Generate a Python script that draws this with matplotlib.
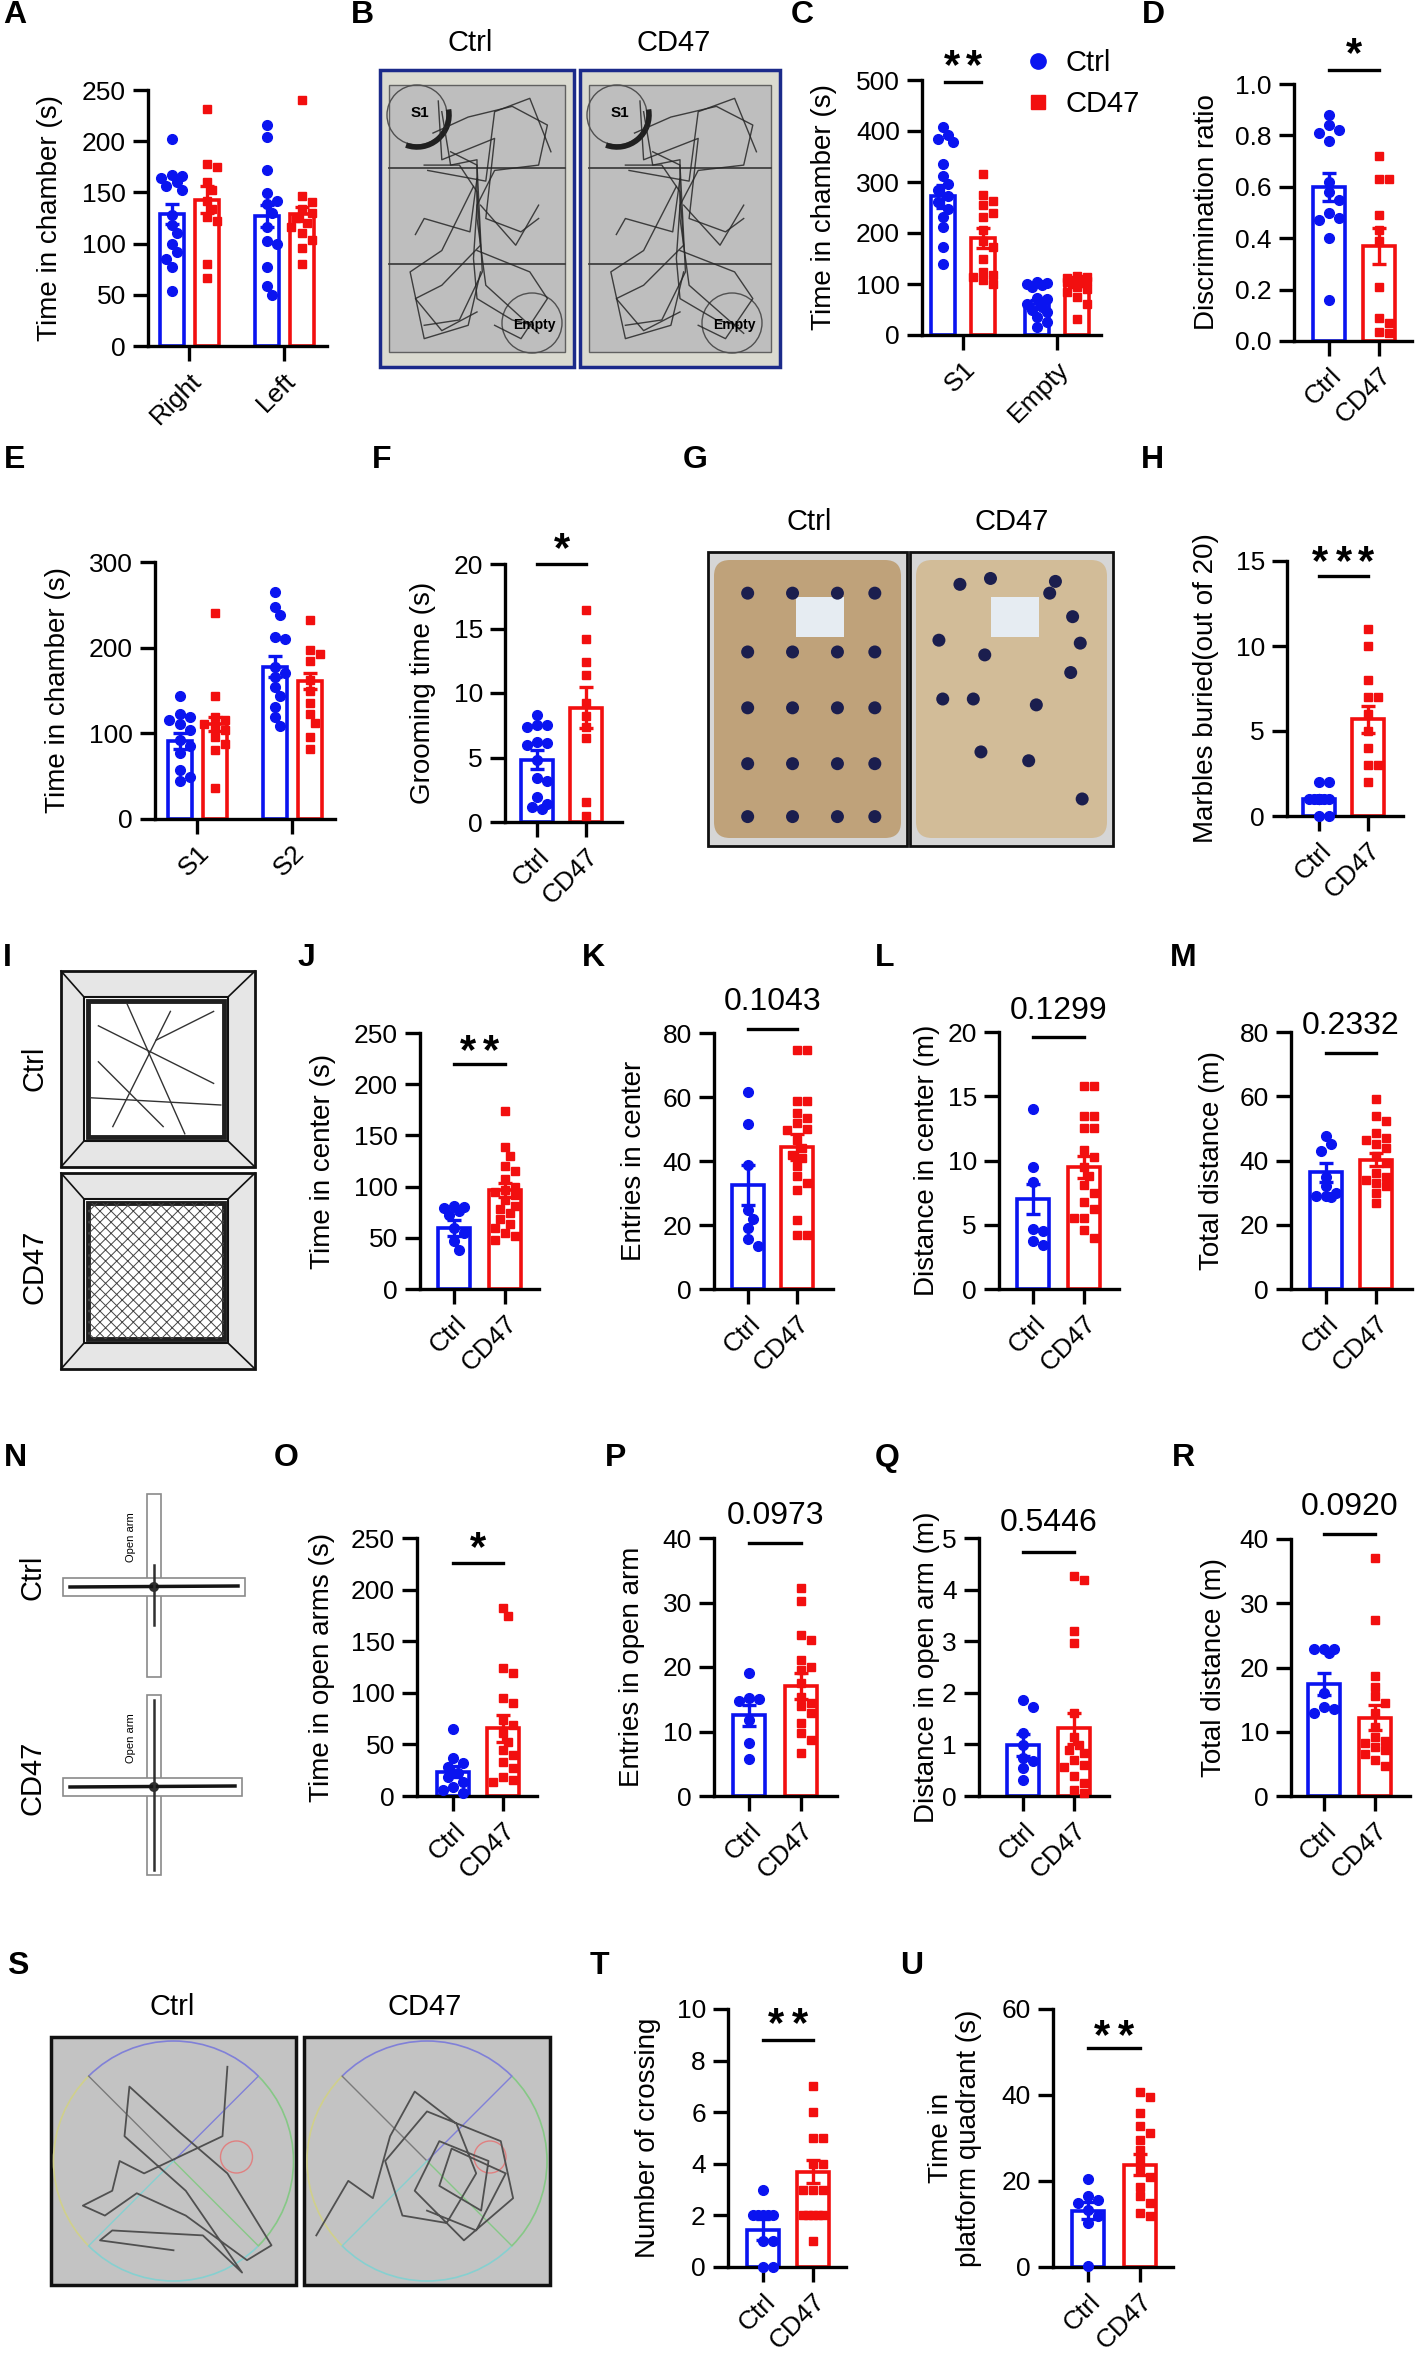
import matplotlib
matplotlib.use("Agg")
import matplotlib.pyplot as plt
import matplotlib.transforms as mtransforms
import numpy as np
from matplotlib.patches import Rectangle, Circle, FancyBboxPatch, Arc
from matplotlib.lines import Line2D

W, H = 1416, 2362
BLUE = "#0A14F0"
RED = "#F20F0F"
plt.rcParams["font.family"] = ["Liberation Sans", "DejaVu Sans"]
plt.rcParams["hatch.linewidth"] = 0.7

# ---------------- data ----------------
# A  three chamber, habituation
a_groups = ["Right", "Left"]
a_ctrl_pts = [[202, 167, 166, 164, 160, 156, 152, 128, 118, 110, 100, 92, 85, 77, 54],
              [216, 204, 172, 149, 142, 139, 130, 116, 103, 100, 77, 59, 50]]
a_cd47_pts = [[231, 178, 175, 160, 152, 142, 134, 126, 122, 80, 66],
              [240, 146, 141, 134, 130, 125, 120, 116, 110, 104, 96, 80]]
a_ctrl_mean, a_ctrl_sem = [129, 127], [10, 11]
a_cd47_mean, a_cd47_sem = [143, 129], [13, 7]

# C  sociability
c_groups = ["S1", "Empty"]
c_ctrl_pts = [[408, 392, 385, 378, 336, 312, 296, 285, 272, 260, 248, 232, 212, 172, 140],
              [104, 102, 100, 98, 95, 72, 70, 60, 55, 50, 45, 35, 25, 15]]
c_cd47_pts = [[316, 275, 262, 255, 240, 231, 206, 185, 173, 149, 124, 118, 114, 108, 100],
              [115, 113, 112, 110, 108, 106, 105, 104, 102, 100, 95, 90, 85, 75, 60, 32]]
c_ctrl_mean, c_ctrl_sem = [272, 60], [23, 8]
c_cd47_mean, c_cd47_sem = [190, 102], [20, 6]

# D  discrimination ratio
d_ctrl = [0.88, 0.84, 0.82, 0.81, 0.78, 0.62, 0.58, 0.55, 0.50, 0.48, 0.47, 0.40, 0.16]
d_cd47 = [0.72, 0.63, 0.63, 0.49, 0.43, 0.39, 0.21, 0.09, 0.07, 0.035, 0.03]
d_mean, d_sem = [0.60, 0.37], [0.055, 0.07]

# E  social novelty
e_groups = ["S1", "S2"]
e_ctrl_pts = [[143, 123, 119, 115, 111, 104, 92, 85, 77, 57, 49, 44],
              [265, 248, 238, 213, 210, 178, 170, 166, 154, 143, 131, 119, 108]]
e_cd47_pts = [[240, 143, 119, 115, 111, 108, 104, 96, 88, 80, 36],
              [232, 197, 193, 185, 162, 150, 135, 123, 112, 96, 82]]
e_ctrl_mean, e_ctrl_sem = [91, 178], [9, 12]
e_cd47_mean, e_cd47_sem = [111, 161], [8, 9]

# F  grooming
f_ctrl = [8.3, 7.5, 7.5, 7.4, 6.2, 6.1, 6.0, 4.8, 3.4, 3.2, 1.9, 1.4, 1.2, 1.0]
f_cd47 = [16.4, 14.2, 12.4, 11.4, 9.2, 8.2, 7.4, 6.5, 1.55, 0.5]
f_mean, f_sem = [4.84, 8.85], [0.75, 1.6]

# H  marbles buried
h_ctrl = [2, 2, 1, 1, 1, 1, 1, 1, 1, 1, 1, 0, 0]
h_cd47 = [11, 10, 8, 7, 7, 6, 5, 4, 3, 3, 2]
h_mean, h_sem = [1.0, 5.7], [0.15, 0.8]

# J-M  open field
j_ctrl = [81, 80, 79, 76, 72, 60, 55, 47, 38]
j_cd47 = [174, 139, 130, 120, 115, 107, 100, 97, 95, 92, 87, 81, 78, 74, 68, 63, 60, 55, 52, 48]
j_mean, j_sem = [59.6, 97], [7.5, 7]
k_ctrl = [61.5, 51.6, 38.9, 24.8, 21.9, 19, 15.6, 13.3]
k_cd47 = [74.6, 74.6, 58.6, 58.6, 55, 53.4, 51.9, 50, 49.8, 46.7, 44, 42, 40.9, 38.3, 35.2, 33, 31, 21.7, 17, 17]
k_mean, k_sem = [32.6, 44.4], [6.3, 4]
l_ctrl = [14.0, 9.5, 8.3, 4.7, 4.5, 3.7, 3.45]
l_cd47 = [15.8, 15.8, 13.5, 13.5, 12.5, 12.5, 10.8, 10.3, 9.5, 8.8, 8.1, 7.5, 6.8, 6.2, 5.5, 5.5, 4.6, 4.0]
l_mean, l_sem = [7.0, 9.47], [1.2, 0.85]
m_ctrl = [47.5, 45, 43, 35, 32, 30, 29, 29, 28.5]
m_cd47 = [59.2, 53.7, 52.2, 48.5, 47, 46.5, 45, 43.9, 41.3, 39.2, 36.1, 35, 34, 33, 32, 29.9, 26.8]
m_mean, m_sem = [36.3, 40.3], [3, 2]

# O-R  elevated plus maze
o_ctrl = [64.7, 36.5, 31.7, 28.5, 22, 18.8, 13.9, 9, 5.8, 3]
o_cd47 = [182, 174, 124, 119, 94.8, 90, 73.7, 68.9, 60.8, 52.7, 44.6, 39.8, 33.3, 26.8, 18.8, 15.5, 13.9]
o_mean, o_sem = [23.6, 65.7], [5, 13]
p_ctrl = [19, 15.2, 15.0, 14.8, 11.8, 8.2, 5.8]
p_cd47 = [32.2, 30.2, 25, 24.2, 21.1, 20, 19.6, 17.5, 15.4, 14.4, 13.9, 12.8, 11.3, 9.7, 8.7, 6.6]
p_mean, p_sem = [12.5, 17], [1.6, 2]
q_ctrl = [1.86, 1.73, 1.22, 0.99, 0.73, 0.67, 0.54, 0.31]
q_cd47 = [4.26, 4.19, 3.19, 2.96, 1.6, 1.15, 0.99, 0.9, 0.83, 0.70, 0.6, 0.57, 0.38, 0.25, 0.12, 0.05]
q_mean, q_sem = [0.99, 1.31], [0.22, 0.3]
r_ctrl = [22.9, 22.9, 22.9, 22.2, 16, 13.9, 13.5, 12.9]
r_cd47 = [37.1, 27.4, 18.7, 17, 15.5, 14.4, 12.9, 10.8, 9.2, 8.5, 8.2, 7.7, 7.2, 6.6, 5.6, 4.6]
r_mean, r_sem = [17.4, 12.2], [1.7, 2]

# T-U  Morris water maze probe
t_ctrl = [3, 2, 2, 2, 2, 2, 1, 1, 0, 0]
t_cd47 = [7, 6, 5, 5, 4, 4, 3, 3, 3, 2, 2, 2, 2, 2, 1]
t_mean, t_sem = [1.45, 3.7], [0.4, 0.45]
u_ctrl = [20.4, 16.4, 15.6, 14.9, 13.3, 11.8, 10.2, 0.15]
u_cd47 = [40.8, 39.6, 35.8, 32.7, 31.1, 29.6, 27.3, 24.9, 22.6, 21, 18.7, 16.4, 14.9, 12.5, 11.8]
u_mean, u_sem = [13.1, 23.8], [2, 2.4]

two = ["Ctrl", "CD47"]

# ---------------- figure ----------------
fig = plt.figure(figsize=(W / 100, H / 100), dpi=100)
bg = fig.add_axes([0, 0, 1, 1], zorder=0)
bg.set_xlim(0, W)
bg.set_ylim(H, 0)
bg.axis("off")


def rect(x0, x1, top, bot):
    return [x0 / W, 1 - bot / H, (x1 - x0) / W, (bot - top) / H]


def swarm(vals, ppu, d=9.5, lim=13):
    ys = np.asarray(vals, float) * ppu
    xs = np.zeros(len(ys))
    cands = [0.0]
    for k in range(1, 6):
        cands += [k * d * 0.55, -k * d * 0.55]
    cands = [c for c in cands if abs(c) <= lim]
    done = []
    for i in np.argsort(-ys):
        best, bestd = 0.0, -1
        for c in cands:
            md = min([np.hypot(c - xs[j], ys[i] - ys[j]) for j in done] + [1e9])
            if md >= d:
                best = c
                break
            if md > bestd:
                best, bestd = c, md
        xs[i] = best
        done.append(i)
    return xs


def bar_panel(lay, ymax, ystep, ticks, ticklabels, bars, sig, fmt="{:.0f}", ylab="", ylab_x=0):
    x0, x1, top, bot, t0, step, bw = lay
    ax = fig.add_axes(rect(x0, x1, top, bot), zorder=2)
    ax.patch.set_alpha(0)
    ax.set_xlim((x0 - t0) / step, (x1 - t0) / step)
    ax.set_ylim(0, ymax)
    ppu = (bot - top) / ymax
    for pos, mean, sem, pts, color, marker in bars:
        ax.bar(pos, mean, width=bw / step, facecolor="white", edgecolor=color, linewidth=2.6, zorder=2)
        offs = swarm(pts, ppu) / step
        ax.plot(pos + offs, pts, ls="none", marker=marker, ms=7.0 if marker == "o" else 6.2,
                color=color, mec=color, clip_on=False, zorder=3)
        ax.errorbar(pos, mean, yerr=sem, color=color, capsize=5, elinewidth=2.4, capthick=2.4,
                    zorder=4, clip_on=False)
    for s in ("top", "right"):
        ax.spines[s].set_visible(False)
    for s in ("left", "bottom"):
        ax.spines[s].set_linewidth(2.4)
    yt = np.arange(0, ymax + ystep / 2, ystep)
    ax.set_yticks(yt)
    ax.set_yticklabels([fmt.format(v) for v in yt], fontsize=19)
    ax.set_xticks(ticks)
    ax.set_xticklabels(ticklabels, rotation=45, ha="right", rotation_mode="anchor", fontsize=19)
    ax.tick_params(axis="both", width=2.4, length=11, pad=5)
    if sig is not None:
        p0, p1, ly, ty, txt = sig
        ax.plot([p0, p1], [ly, ly], color="black", lw=2.4, clip_on=False)
        if txt.startswith("*"):
            fs = 30
            base = ty - 0.56 * fs * 100 / 72 / ppu
            n = len(txt)
            for i in range(n):
                tr = mtransforms.offset_copy(ax.transData, fig=fig, x=(i - (n - 1) / 2) * 23,
                                             y=0, units="dots")
                ax.text((p0 + p1) / 2, base, "*", ha="center", va="baseline", fontsize=fs,
                        fontweight="bold", clip_on=False, transform=tr)
        else:
            fs = 23
            base = ty - 0.36 * fs * 100 / 72 / ppu
            ax.text((p0 + p1) / 2, base, txt, ha="center", va="baseline", fontsize=fs, clip_on=False)
    fig.text(ylab_x / W, 1 - (top + bot) / 2 / H, ylab, rotation=90, ha="center", va="center",
             fontsize=20, linespacing=1.15)
    return ax


def pair_bars(means, sems, ctrl, cd47):
    return [(0, means[0], sems[0], ctrl, BLUE, "o"), (1, means[1], sems[1], cd47, RED, "s")]


def group_bars(cm, cs, cp, rm, rs, rp, off):
    out = []
    for g in range(len(cm)):
        out.append((g - off, cm[g], cs[g], cp[g], BLUE, "o"))
        out.append((g + off, rm[g], rs[g], rp[g], RED, "s"))
    return out


# grouped panels
bar_panel((148, 327, 90, 346, 189, 95, 24), 250, 50, [0, 1], a_groups,
          group_bars(a_ctrl_mean, a_ctrl_sem, a_ctrl_pts, a_cd47_mean, a_cd47_sem, a_cd47_pts, 17.5 / 95),
          None, ylab="Time in chamber (s)", ylab_x=50)
bar_panel((922, 1101, 80, 335, 963, 94, 24), 500, 100, [0, 1], c_groups,
          group_bars(c_ctrl_mean, c_ctrl_sem, c_ctrl_pts, c_cd47_mean, c_cd47_sem, c_cd47_pts, 20 / 94),
          (-0.19, 0.19, 496, 549, "**"), ylab="Time in chamber (s)", ylab_x=824)
bar_panel((155, 335, 562, 819, 197, 95, 24), 300, 100, [0, 1], e_groups,
          group_bars(e_ctrl_mean, e_ctrl_sem, e_ctrl_pts, e_cd47_mean, e_cd47_sem, e_cd47_pts, 17.5 / 95),
          None, ylab="Time in chamber (s)", ylab_x=58)

# legend of C
leg_handles = [Line2D([], [], ls="none", marker="o", ms=11, color=BLUE),
               Line2D([], [], ls="none", marker="s", ms=10, color=RED)]
fig.legend(leg_handles, two, loc="upper left", bbox_to_anchor=(1003 / W, 1 - 26 / H),
           frameon=False, fontsize=21, handlelength=0.8, handletextpad=0.55, labelspacing=0.45,
           borderpad=0.3)

# two-bar panels
bar_panel((1294, 1412, 84, 341, 1329, 50, 32), 1.0, 0.2, [0, 1], two,
          pair_bars(d_mean, d_sem, d_ctrl, d_cd47), (0, 1, 1.054, 1.16, "*"),
          fmt="{:.1f}", ylab="Discrimination ratio", ylab_x=1207)
bar_panel((505, 622, 564, 822, 537, 49, 32), 20, 5, [0, 1], two,
          pair_bars(f_mean, f_sem, f_ctrl, f_cd47), (0, 1, 20.0, 22.0, "*"),
          ylab="Grooming time (s)", ylab_x=423)
bar_panel((1287, 1403, 561, 816, 1319, 49, 32), 15, 5, [0, 1], two,
          pair_bars(h_mean, h_sem, h_ctrl, h_cd47), (0, 1, 14.1, 15.6, "***"),
          ylab="Marbles buried(out of 20)", ylab_x=1206)
bar_panel((420, 539, 1033, 1289, 454, 51, 32), 250, 50, [0, 1], two,
          pair_bars(j_mean, j_sem, j_ctrl, j_cd47), (0, 1, 220, 243, "**"),
          ylab="Time in center (s)", ylab_x=323)
bar_panel((714, 833, 1033, 1289, 748, 49, 32), 80, 20, [0, 1], two,
          pair_bars(k_mean, k_sem, k_ctrl, k_cd47), (0, 1, 81.2, 90.9, "0.1043"),
          ylab="Entries in center", ylab_x=634)
bar_panel((999, 1119, 1032, 1289, 1033, 51, 32), 20, 5, [0, 1], two,
          pair_bars(l_mean, l_sem, l_ctrl, l_cd47), (0, 1, 19.6, 21.9, "0.1299"),
          ylab="Distance in center (m)", ylab_x=927)
bar_panel((1291, 1412, 1032, 1289, 1326, 50, 32), 80, 20, [0, 1], two,
          pair_bars(m_mean, m_sem, m_ctrl, m_cd47), (0, 1, 73.5, 83.1, "0.2332"),
          ylab="Total distance (m)", ylab_x=1212)
bar_panel((417, 537, 1538, 1796, 453, 50, 32), 250, 50, [0, 1], two,
          pair_bars(o_mean, o_sem, o_ctrl, o_cd47), (0, 1, 226, 251, "*"),
          ylab="Time in open arms (s)", ylab_x=322)
bar_panel((714, 837, 1538, 1796, 749, 52, 32), 40, 10, [0, 1], two,
          pair_bars(p_mean, p_sem, p_ctrl, p_cd47), (0, 1, 39.2, 44.0, "0.0973"),
          ylab="Entries in open arm", ylab_x=632)
bar_panel((979, 1109, 1538, 1796, 1023, 51, 32), 5, 1, [0, 1], two,
          pair_bars(q_mean, q_sem, q_ctrl, q_cd47), (0, 1, 4.73, 5.35, "0.5446"),
          ylab="Distance in open arm (m)", ylab_x=927)
bar_panel((1291, 1410, 1539, 1796, 1324, 51, 32), 40, 10, [0, 1], two,
          pair_bars(r_mean, r_sem, r_ctrl, r_cd47), (0, 1, 40.8, 45.6, "0.0920"),
          ylab="Total distance (m)", ylab_x=1214)
bar_panel((728, 846, 2009, 2267, 763, 50, 32), 10, 2, [0, 1], two,
          pair_bars(t_mean, t_sem, t_ctrl, t_cd47), (0, 1, 8.8, 9.84, "**"),
          ylab="Number of crossing", ylab_x=648)
bar_panel((1053, 1173, 2009, 2267, 1088, 52, 32), 60, 20, [0, 1], two,
          pair_bars(u_mean, u_sem, u_ctrl, u_cd47), (0, 1, 50.9, 56.3, "**"),
          ylab="Time in\nplatform quadrant (s)", ylab_x=955)

# ---------------- panel letters & titles ----------------
letters = {"A": (3, 15), "B": (351, 15), "C": (791, 15), "D": (1142, 15),
           "E": (4, 460), "F": (372, 460), "G": (683, 460), "H": (1141, 460),
           "I": (3, 958), "J": (298, 958), "K": (582, 958), "L": (875, 958), "M": (1170, 958),
           "N": (4, 1458), "O": (274, 1458), "P": (605, 1458), "Q": (875, 1458), "R": (1172, 1458),
           "S": (7, 1966), "T": (590, 1966), "U": (900, 1966)}
for k, (x, y) in letters.items():
    bg.text(x, y, k, fontsize=23, fontweight="bold", ha="left", va="center")

for x, y, t in [(470, 43, "Ctrl"), (674, 43, "CD47"), (809, 522, "Ctrl"), (1012, 522, "CD47"),
                (172, 2007, "Ctrl"), (425, 2007, "CD47")]:
    bg.text(x, y, t, fontsize=21, ha="center", va="center")
for x, y, t in [(34, 1068, "Ctrl"), (34, 1267, "CD47"), (32, 1577, "Ctrl"), (32, 1778, "CD47")]:
    bg.text(x, y, t, fontsize=21, ha="center", va="center", rotation=90)

# ---------------- B: three chamber track images ----------------
b_paths = [
    [(0.25, 0.18), (0.45, 0.12), (0.7, 0.08), (0.9, 0.15), (0.85, 0.3), (0.6, 0.32), (0.5, 0.45),
     (0.48, 0.65), (0.5, 0.8), (0.7, 0.88), (0.82, 0.9)],
    [(0.2, 0.3), (0.4, 0.3), (0.5, 0.4), (0.52, 0.6), (0.3, 0.75), (0.15, 0.8), (0.3, 0.92), (0.5, 0.85)],
    [(0.28, 0.06), (0.3, 0.28), (0.6, 0.2), (0.55, 0.5), (0.75, 0.55), (0.85, 0.5)],
    [(0.5, 0.35), (0.46, 0.55), (0.2, 0.5), (0.15, 0.56)],
    [(0.5, 0.62), (0.8, 0.7), (0.9, 0.8), (0.75, 0.95), (0.6, 0.9)],
    [(0.35, 0.25), (0.5, 0.3), (0.53, 0.7), (0.4, 0.88), (0.2, 0.9)],
    [(0.3, 0.1), (0.35, 0.3), (0.5, 0.28), (0.5, 0.5), (0.55, 0.75), (0.85, 0.93)],
    [(0.22, 0.32), (0.55, 0.36), (0.6, 0.1), (0.8, 0.05), (0.92, 0.25)],
    [(0.48, 0.38), (0.3, 0.62), (0.12, 0.7), (0.2, 0.95), (0.45, 0.9), (0.52, 0.7)],
    [(0.52, 0.45), (0.72, 0.6), (0.85, 0.45)],
]


def chamber_box(x0, x1):
    bg.add_patch(Rectangle((x0, 70), x1 - x0, 297, fc="#DADAD0", ec="#1B2A8A", lw=2.5))
    ix0, ix1, iy0, iy1 = x0 + 9, x1 - 9, 85, 352
    bg.add_patch(Rectangle((ix0, iy0), ix1 - ix0, iy1 - iy0, fc="#BEBEBE", ec="#606060", lw=1))
    for yy in (168, 264):
        bg.plot([ix0, ix1], [yy, yy], color="#404040", lw=1.3)
    bg.add_patch(Circle((x0 + 37, 115), 30, fill=False, ec="#505050", lw=1))
    bg.add_patch(Circle((x0 + 152, 323), 30, fill=False, ec="#505050", lw=1))
    bg.add_patch(Arc((x0 + 37, 115), 64, 64, theta1=-10, theta2=110, color="#202020", lw=4))
    for path in b_paths:
        xs = [ix0 + u * (ix1 - ix0) for u, v in path]
        ys = [iy0 + v * (iy1 - iy0) for u, v in path]
        bg.plot(xs, ys, color="#262626", lw=1.0, alpha=0.85)
    bg.text(x0 + 40, 113, "S1", fontsize=11, fontweight="bold", ha="center", va="center")
    bg.text(x0 + 154, 325, "Empty", fontsize=10, fontweight="bold", ha="center", va="center")


chamber_box(380, 574)
chamber_box(580, 780)

# ---------------- G: marble burying photos ----------------
g_cols = [0.18, 0.42, 0.66, 0.86]
g_rows = [0.14, 0.34, 0.53, 0.72, 0.90]
g_cd47_marbles = [(0.23, 0.11), (0.39, 0.09), (0.73, 0.10), (0.70, 0.14), (0.82, 0.22), (0.12, 0.30),
                  (0.86, 0.31), (0.36, 0.35), (0.81, 0.41), (0.14, 0.50), (0.30, 0.50), (0.63, 0.52),
                  (0.34, 0.68), (0.59, 0.71), (0.87, 0.84)]


def tray(x0, x1, marbles, label_u, sandcol):
    y0, y1 = 552, 846
    bg.add_patch(Rectangle((x0, y0), x1 - x0, y1 - y0, fc="#D6D6D6", ec="#111111", lw=2))
    bg.add_patch(FancyBboxPatch((x0 + 6, y0 + 8), x1 - x0 - 12, y1 - y0 - 16,
                                boxstyle="round,pad=0,rounding_size=16", fc=sandcol, ec="none"))
    bg.add_patch(Rectangle((x0 + label_u * (x1 - x0), 597), 48, 40, fc="#E6ECF2", ec="none"))
    for u, v in marbles:
        bg.add_patch(Circle((x0 + 6 + u * (x1 - x0 - 12), y0 + v * (y1 - y0)), 6.5,
                            fc="#1B1E4E", ec="none"))


tray(708, 907, [(c, r) for r in g_rows for c in g_cols], 0.44, "#BFA27A")
tray(910, 1113, g_cd47_marbles, 0.40, "#D2BC98")

# ---------------- I: open field tracks ----------------
i_ctrl_lines = [[(0.1, 0.2), (0.9, 0.6)], [(0.2, 0.9), (0.6, 0.1)], [(0.05, 0.7), (0.95, 0.75)],
                [(0.3, 0.05), (0.7, 0.95)], [(0.5, 0.3), (0.9, 0.1)], [(0.1, 0.45), (0.55, 0.9)]]


def open_field(y0, dense):
    x0, x1, y1 = 61, 255, y0 + 196
    bg.add_patch(Rectangle((x0, y0), x1 - x0, y1 - y0, fc="#E6E6E6", ec="#111111", lw=2))
    ix0, ix1, iy0, iy1 = 84, 228, y0 + 26, y0 + 170
    for (ax_, ay_), (bx_, by_) in [((x0, y0), (ix0, iy0)), ((x1, y0), (ix1, iy0)),
                                   ((x0, y1), (ix0, iy1)), ((x1, y1), (ix1, iy1))]:
        bg.plot([ax_, bx_], [ay_, by_], color="#111111", lw=1.2)
    bg.add_patch(Rectangle((ix0, iy0), ix1 - ix0, iy1 - iy0, fc="white", ec="#111111", lw=1.5))
    bg.add_patch(Rectangle((ix0 + 4, iy0 + 4), ix1 - ix0 - 8, iy1 - iy0 - 8, fill=False,
                           ec="#202020", lw=3.5))
    if dense:
        bg.add_patch(Rectangle((ix0 + 4, iy0 + 4), ix1 - ix0 - 8, iy1 - iy0 - 8, fill=False,
                               ec="#444444", lw=0, hatch="xxx"))
    else:
        for (u0, v0), (u1, v1) in i_ctrl_lines:
            bg.plot([ix0 + u0 * (ix1 - ix0), ix0 + u1 * (ix1 - ix0)],
                    [iy0 + v0 * (iy1 - iy0), iy0 + v1 * (iy1 - iy0)], color="#333333", lw=1)


open_field(971, False)
open_field(1173, True)


# ---------------- N: elevated plus maze ----------------
def plus_maze(vy0, vy1, hy0, hx1, vtrack):
    bg.add_patch(Rectangle((147, vy0), 14, vy1 - vy0, fc="white", ec="#8A8A8A", lw=1.2))
    bg.add_patch(Rectangle((63, hy0), hx1 - 63, 18, fc="white", ec="#8A8A8A", lw=1.2))
    bg.plot([70, hx1 - 7], [hy0 + 9, hy0 + 8], color="#151515", lw=2.5)
    bg.plot([154, 154], [vtrack[0], vtrack[1]], color="#303030", lw=1.8)
    bg.add_patch(Circle((154, hy0 + 9), 5, fc="#303030", ec="none"))
    bg.text(131, vy0 + 43, "Open arm", rotation=90, fontsize=8, ha="center", va="center")


plus_maze(1494, 1677, 1578, 245, (1565, 1625))
plus_maze(1695, 1875, 1778, 242, (1700, 1870))

# ---------------- S: water maze tracks ----------------
s_ctrl_path = [(0.72, 0.12), (0.70, 0.40), (0.38, 0.55), (0.28, 0.50), (0.25, 0.62), (0.13, 0.68),
               (0.22, 0.72), (0.35, 0.63), (0.55, 0.72), (0.80, 0.90), (0.90, 0.84), (0.72, 0.55),
               (0.52, 0.38), (0.32, 0.20), (0.30, 0.40), (0.55, 0.62), (0.78, 0.95), (0.62, 0.80),
               (0.25, 0.78), (0.20, 0.82), (0.50, 0.86)]
s_cd47_path = [(0.05, 0.80), (0.18, 0.58), (0.28, 0.65), (0.35, 0.40), (0.45, 0.22), (0.62, 0.35),
               (0.70, 0.55), (0.58, 0.75), (0.40, 0.72), (0.33, 0.50), (0.50, 0.30), (0.80, 0.42),
               (0.85, 0.65), (0.65, 0.82), (0.45, 0.62), (0.55, 0.42), (0.75, 0.50), (0.72, 0.70),
               (0.55, 0.60), (0.60, 0.45), (0.82, 0.55), (0.70, 0.78), (0.50, 0.70)]


def pool(x0, x1, path):
    y0, y1 = 2037, 2285
    bg.add_patch(Rectangle((x0, y0), x1 - x0, y1 - y0, fc="#C3C3C3", ec="#111111", lw=2.5))
    cx, cy, r = (x0 + x1) / 2, (y0 + y1) / 2, 120
    for t1, t2, col in [(225, 315, "#8080D8"), (315, 405, "#86C886"), (45, 135, "#86D0D0"),
                        (135, 225, "#D0D08A")]:
        bg.add_patch(Arc((cx, cy), 2 * r, 2 * r, theta1=t1, theta2=t2, color=col, lw=1.2))
    for ang, col in [(225, "#7A7A7A"), (315, "#8080D8"), (45, "#86C886"), (135, "#86D0D0")]:
        a = np.deg2rad(ang)
        bg.plot([cx, cx + r * np.cos(a)], [cy, cy + r * np.sin(a)], color=col, lw=1.0)
    bg.add_patch(Circle((cx + 63, cy - 4), 16, fill=False, ec="#E08080", lw=1.0))
    xs = [x0 + u * (x1 - x0) for u, v in path]
    ys = [y0 + v * (y1 - y0) for u, v in path]
    bg.plot(xs, ys, color="#505050", lw=1.3)


pool(51, 296, s_ctrl_path)
pool(304, 550, s_cd47_path)

fig.savefig("out.png", dpi=100, facecolor="white")
